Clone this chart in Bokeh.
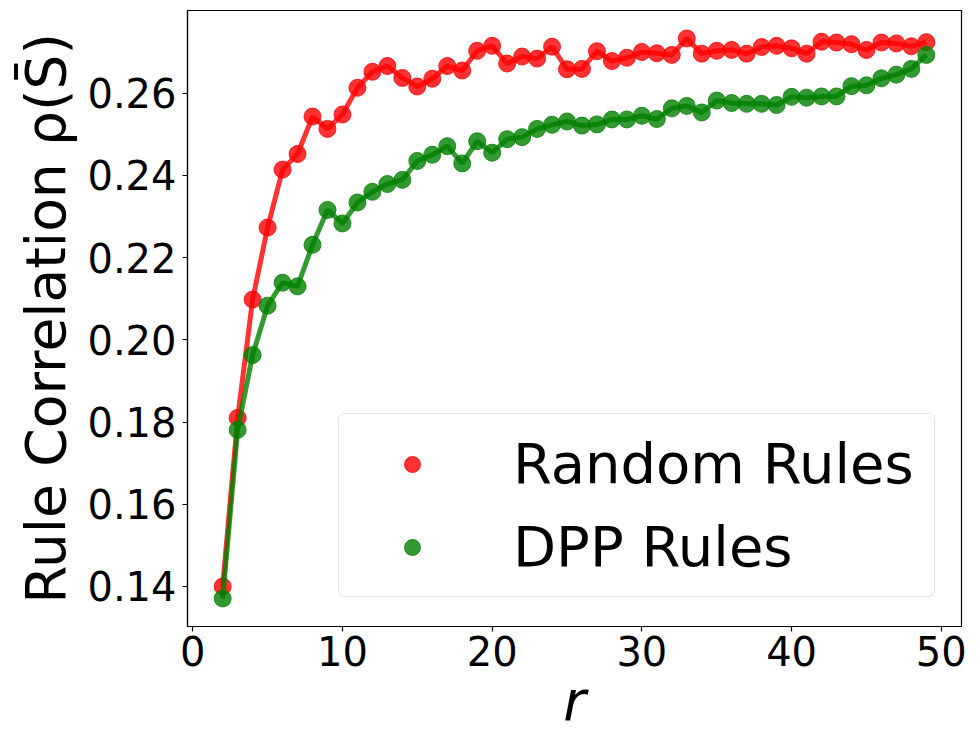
from bokeh.plotting import figure
from bokeh.models import Range1d, FixedTicker, Legend, LegendItem, ColumnDataSource, CustomJSTickFormatter
from bokeh.embed import file_html
from bokeh.resources import INLINE

r_values = list(range(2, 50))
random_rules = [0.1400, 0.1810, 0.2098, 0.2273, 0.2414, 0.2452, 0.2543, 0.2513, 0.2548, 0.2613,
                0.2652, 0.2666, 0.2637, 0.2616, 0.2635, 0.2666, 0.2655, 0.2703, 0.2715, 0.2672,
                0.2689, 0.2684, 0.2713, 0.2658, 0.2659, 0.2702, 0.2678, 0.2686, 0.2700, 0.2697,
                0.2693, 0.2733, 0.2696, 0.2703, 0.2705, 0.2696, 0.2712, 0.2715, 0.2709, 0.2696,
                0.2725, 0.2723, 0.2719, 0.2705, 0.2723, 0.2721, 0.2714, 0.2724]
dpp_rules = [0.1371, 0.1781, 0.1963, 0.2083, 0.2139, 0.2130, 0.2231, 0.2316, 0.2283, 0.2334,
             0.2360, 0.2379, 0.2389, 0.2435, 0.2450, 0.2471, 0.2429, 0.2483, 0.2455, 0.2488,
             0.2493, 0.2513, 0.2523, 0.2531, 0.2521, 0.2524, 0.2536, 0.2536, 0.2545, 0.2537,
             0.2563, 0.2569, 0.2553, 0.2582, 0.2576, 0.2574, 0.2574, 0.2571, 0.2591, 0.2589,
             0.2592, 0.2592, 0.2617, 0.2619, 0.2636, 0.2645, 0.2659, 0.2693]
x_ticks = [0, 10, 20, 30, 40, 50]
y_ticks = [0.14, 0.16, 0.18, 0.20, 0.22, 0.24, 0.26]
series_names = ["Random Rules", "DPP Rules"]
series_colors = ["red", "green"]

FONT = "DejaVu Sans"

p = figure(width=969, height=739, output_backend="svg", toolbar_location=None,
           x_range=Range1d(-0.35, 51.35), y_range=Range1d(0.13027, 0.2801),
           min_border_left=187, min_border_right=8, min_border_top=10, min_border_bottom=113)

p.xgrid.visible = False
p.ygrid.visible = False
p.outline_line_color = "black"
p.outline_line_width = 1.2
p.background_fill_color = "white"
p.border_fill_color = "white"

src = ColumnDataSource(dict(r=r_values, rand=random_rules, dpp=dpp_rules))

renderers = []
for col, color in zip(["rand", "dpp"], series_colors):
    p.line("r", col, source=src, line_color=color, line_width=5, line_alpha=0.8)
    sc = p.scatter("r", col, source=src, size=17, fill_color=color, line_color=color,
                   fill_alpha=0.8, line_alpha=0.8)
    renderers.append(sc)

for ax in (p.xaxis[0], p.yaxis[0]):
    ax.axis_line_color = "black"
    ax.axis_line_width = 1.2
    ax.major_tick_line_color = "black"
    ax.major_tick_line_width = 1.2
    ax.major_tick_out = 5
    ax.major_tick_in = 0
    ax.minor_tick_out = 0
    ax.minor_tick_in = 0
    ax.major_label_text_font = FONT
    ax.major_label_text_font_size = "40px"
    ax.major_label_text_color = "black"
    ax.axis_label_text_font = FONT
    ax.axis_label_text_font_size = "55px"
    ax.axis_label_text_color = "black"

p.xaxis[0].ticker = FixedTicker(ticks=x_ticks)
p.yaxis[0].ticker = FixedTicker(ticks=y_ticks)
p.yaxis[0].formatter = CustomJSTickFormatter(code="return tick.toFixed(2);")
p.xaxis[0].major_label_standoff = 4
p.yaxis[0].major_label_standoff = 6
p.xaxis[0].axis_label = "r"
p.xaxis[0].axis_label_text_font_style = "italic"
p.xaxis[0].axis_label_standoff = 0
p.yaxis[0].axis_label = "Rule Correlation \u03c1(S\u0304)"
p.yaxis[0].axis_label_text_font_style = "normal"
p.yaxis[0].axis_label_standoff = 6

legend = Legend(items=[LegendItem(label=n, renderers=[r]) for n, r in zip(series_names, renderers)],
                location=(151, 29), orientation="vertical",
                label_text_font=FONT, label_text_font_size="56px", label_text_color="black",
                glyph_width=112, glyph_height=40, label_height=64, label_width=404, label_standoff=45,
                padding=17, spacing=18, margin=0,
                border_line_color="#cccccc", border_line_width=1.2,
                background_fill_color="white", background_fill_alpha=0.8)
if "border_radius" in Legend.properties():
    legend.border_radius = 6
p.add_layout(legend, "center")

open("out.html", "w").write(file_html(p, INLINE))
